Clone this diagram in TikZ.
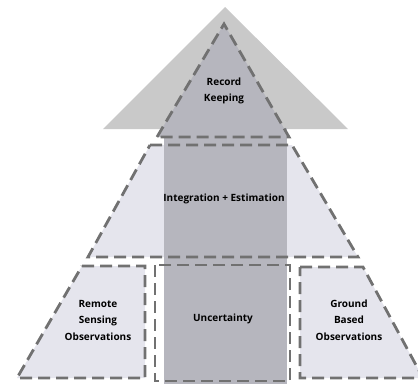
\documentclass[tikz,border=0pt]{standalone}
\usepackage{fontspec}
\setmainfont{Open Sans}
\definecolor{arrowgray}{HTML}{C9C9C9}
\definecolor{bandgray}{HTML}{B6B6BE}
\definecolor{boxgray}{HTML}{E5E5ED}
\definecolor{dashgray}{HTML}{717171}
\begin{document}
\begin{tikzpicture}[x=1pt,y=-1pt,
	dashbox/.style={draw=dashgray,line width=2.8pt,dash pattern=on 12pt off 6pt},
	txt/.style={align=center,font=\fontsize{10}{16.5}\selectfont\bfseries}]
		\useasboundingbox(0,0)rectangle(418,386);
		\clip(0,0)rectangle(418,386);
		\fill[arrowgray](103,129)--(225,7)--(348,129)--cycle;
		\fill[boxgray](150,145)--(292,145)--(358,257)--(88,257)--cycle;
		\fill[boxgray](82,266)--(145,266)--(145,378)--(17,378)--cycle;
		\fill[boxgray](300,267)--(363,267)--(423,378)--(300,378)--cycle;
		\fill[bandgray](164,128)rectangle(287,384);
		\draw[dashbox,fill=bandgray](157,137)--(224,24)--(289,137)--cycle;
		\draw[dashbox](150,145)--(292,145)--(358,257)--(88,257)--cycle;
		\draw[dashbox](82,266)--(145,266)--(145,378)--(17,378)--cycle;
		\draw[dashbox](155,265)rectangle(290,381);
		\draw[dashbox](300,267)--(363,267)--(423,378)--(300,378)--cycle;
		\node[txt](record)at(224,91){Record\\Keeping};
		\node[txt](integration)at(224,199){Integration + Estimation};
		\node[txt](remote)at(98,320){Remote\\Sensing\\Observations};
		\node[txt](uncertainty)at(223,319){Uncertainty};
		\node[txt](ground)at(349,320){Ground\\Based\\Observations};
\end{tikzpicture}
\end{document}
